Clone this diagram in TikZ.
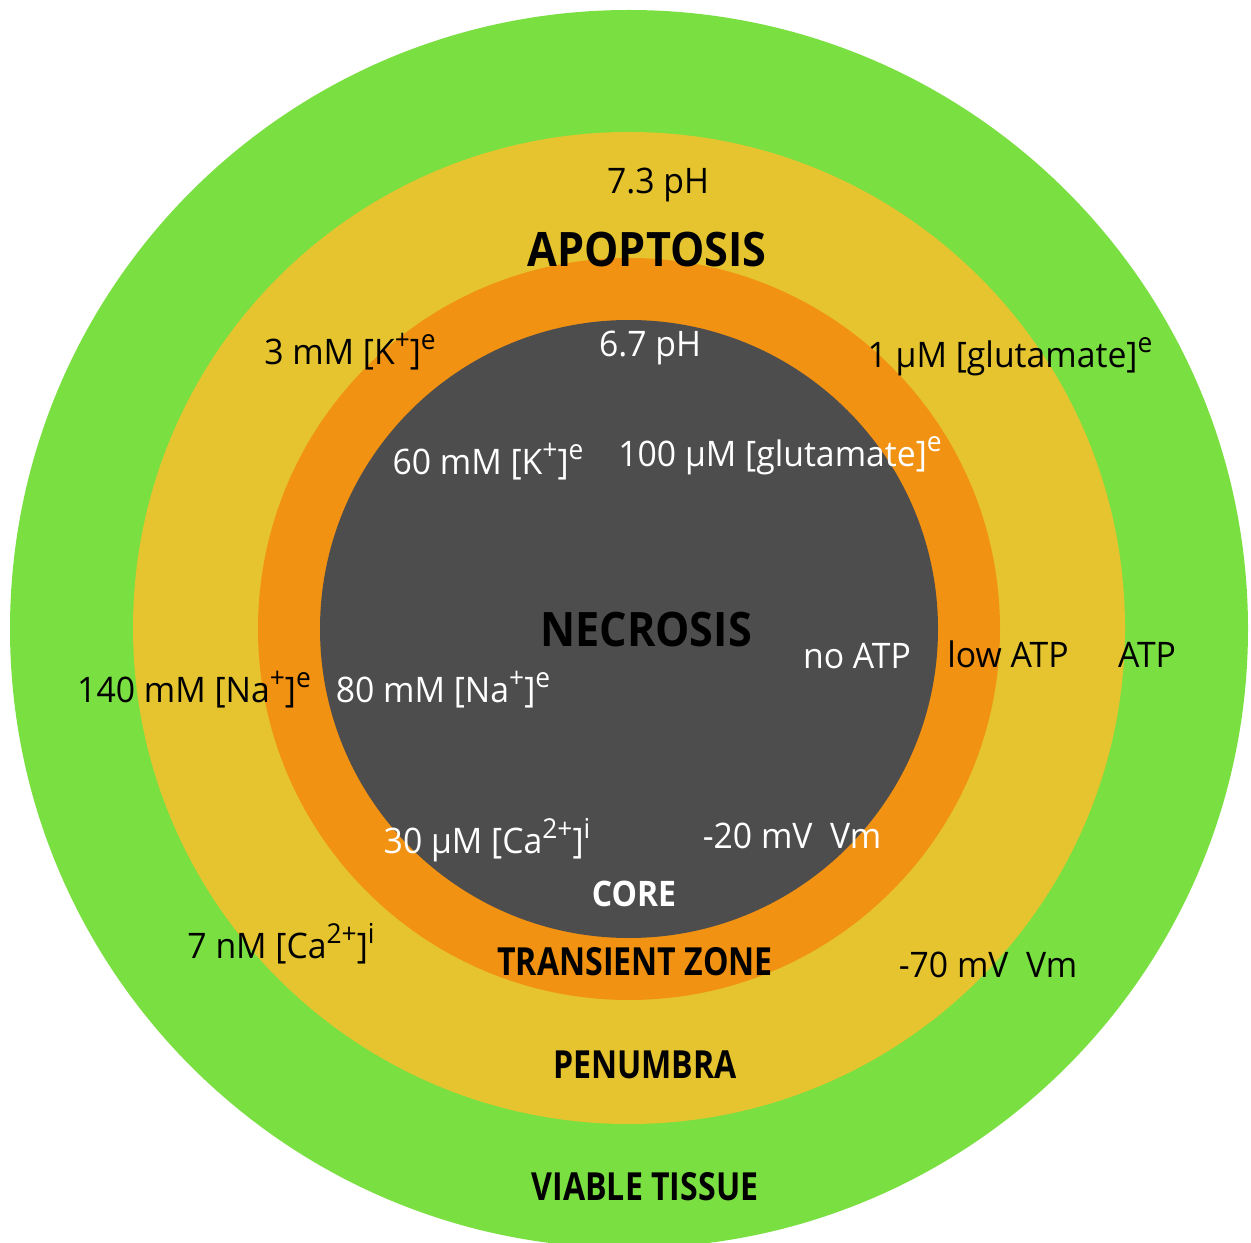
\documentclass[tikz,border=0pt]{standalone}
\usepackage{fontspec}
\setmainfont{Open Sans}[FakeStretch=0.96]
\newfontfamily\zonefont{Open Sans}[FakeStretch=0.83]
\newfontfamily\bigzonefont{Open Sans}[FakeStretch=0.91]
\usepackage{tikz}
\usetikzlibrary{positioning}
\definecolor{viable}{RGB}{122,223,65}
\definecolor{penumbra}{RGB}{229,196,48}
\definecolor{transient}{RGB}{242,146,18}
\definecolor{core}{RGB}{77,77,77}
\tikzstyle{every node}=[inner sep=0pt, font=\fontsize{10}{12}\selectfont]
\tikzstyle{val}=[text=black]
\tikzstyle{inval}=[text=white]
\tikzstyle{zone}=[font=\fontsize{11}{13}\selectfont\zonefont\bfseries]
\tikzstyle{bigzone}=[font=\fontsize{13.5}{16}\selectfont\bigzonefont\bfseries]
\newcommand{\sups}[1]{\raisebox{0.42em}{\fontsize{7.8}{9}\selectfont #1}}

\begin{document}
\begin{tikzpicture}[x=0.01cm, y=-0.01cm]
  \useasboundingbox (0,0) rectangle (1251,1243);
  % rings, outside in
  \fill[viable] (629,629) circle (619);
  \fill[penumbra] (629,628) circle (496);
  \fill[transient] (629,629) circle (371);
  \fill[core] (629,629) circle (309);

  % zone names
  \node[bigzone] (apoptosis) at (647,250) {APOPTOSIS};
  \node[bigzone] (necrosis) at (646,630) {NECROSIS};
  \node[zone, text=white, font=\fontsize{10}{12}\selectfont\bigzonefont\bfseries] (corename) at (634,894) {CORE};
  \node[zone] (transname) at (635,962) {TRANSIENT ZONE};
  \node[zone] (penname) at (645,1065) {PENUMBRA};
  \node[zone] (viablename) at (645,1187) {VIABLE TISSUE};

  % penumbra values
  \node[val] (phout) at (658,185) {7.3 pH};
  \node[val] (kout) at (350,352) {3 mM [K\sups{+}]\sups{e}};
  \node[val] (gluout) at (1010,357) {1 µM [glutamate]\sups{e}};
  \node[val] (naout) at (194,690) {140 mM [Na\sups{+}]\sups{e}};
  \node[val] (caout) at (281,944) {7 nM [Ca\sups{2+}]\sups{i}};
  \node[val] (vmout) at (988,965) {-70 mV\ \ Vm};
  \node[val] (lowatp) at (1008,654) {low ATP};
  \node[val] (atp) at (1147,655) {ATP};

  % core values
  \node[inval] (phin) at (650,348) {6.7 pH};
  \node[inval] (kin) at (488,462) {60 mM [K\sups{+}]\sups{e}};
  \node[inval] (gluin) at (780,456) {100 µM [glutamate]\sups{e}};
  \node[inval] (noatp) at (857,656) {no ATP};
  \node[inval] (nain) at (443,690) {80 mM [Na\sups{+}]\sups{e}};
  \node[inval] (cain) at (487,840) {30 µM [Ca\sups{2+}]\sups{i}};
  \node[inval] (vmin) at (792,836) {-20 mV\ \ Vm};
\end{tikzpicture}
\end{document}
